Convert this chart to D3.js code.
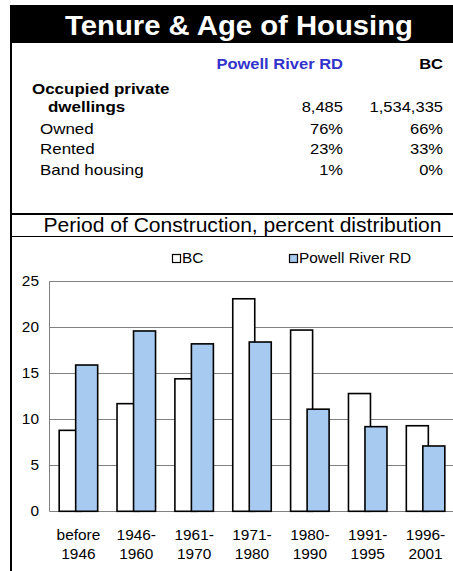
<!DOCTYPE html>
<html>
<head>
<meta charset="utf-8">
<script src="https://cdn.jsdelivr.net/npm/d3@7/dist/d3.min.js"></script>
<style>
  html, body { margin: 0; padding: 0; background: #fff; }
  svg { display: block; font-family: "Liberation Sans", Arial, sans-serif; }
</style>
</head>
<body>
<svg id="chart" width="453" height="571"></svg>
<script>
// ---- data ----
const title = "Tenure & Age of Housing";
const regionName = "Powell River RD";
const provName = "BC";
const tableLabels = ["Owned", "Rented", "Band housing"];
const tableRegion = ["76%", "23%", "1%"];
const tableProv = ["66%", "33%", "0%"];
const dwellingsRegion = "8,485";
const dwellingsProv = "1,534,335";
const subtitle = "Period of Construction, percent distribution";
const categories = ["before 1946", "1946-1960", "1961-1970", "1971-1980", "1980-1990", "1991-1995", "1996-2001"];
const catLine1 = ["before", "1946-", "1961-", "1971-", "1980-", "1991-", "1996-"];
const catLine2 = ["1946", "1960", "1970", "1980", "1990", "1995", "2001"];
const bcValues = [8.8, 11.7, 14.4, 23.1, 19.7, 12.8, 9.3];
const prValues = [15.9, 19.6, 18.2, 18.4, 11.1, 9.2, 7.1];
const yTicks = [0, 5, 10, 15, 20, 25];

const svg = d3.select("#chart");
const K = 1.1; // horizontal stretch of text

function stretch(sel, k) {
  sel.each(function () {
    const w = this.getComputedTextLength();
    this.setAttribute("textLength", w * k);
    this.setAttribute("lengthAdjust", "spacingAndGlyphs");
  });
  return sel;
}

// ---- title band ----
svg.append("rect").attr("x", 10).attr("y", 5).attr("width", 443).attr("height", 38).attr("fill", "#000");
stretch(svg.append("text").attr("x", 239).attr("y", 35).attr("text-anchor", "middle")
  .attr("font-size", 28).attr("font-weight", "bold").attr("fill", "#fff").text(title), 1.045);

// borders
svg.append("rect").attr("x", 10).attr("y", 43).attr("width", 2).attr("height", 528).attr("fill", "#000");
svg.append("rect").attr("x", 10).attr("y", 213).attr("width", 443).attr("height", 2).attr("fill", "#000");
svg.append("rect").attr("x", 10).attr("y", 236).attr("width", 443).attr("height", 1).attr("fill", "#000");

// ---- table ----
const colR = 343, colP = 443;
stretch(svg.append("text").attr("x", colR).attr("y", 69).attr("text-anchor", "end")
  .attr("font-size", 15).attr("font-weight", "bold").attr("fill", "#3333cc").text(regionName), K);
stretch(svg.append("text").attr("x", colP).attr("y", 69).attr("text-anchor", "end")
  .attr("font-size", 15).attr("font-weight", "bold").attr("fill", "#000").text(provName), K);
stretch(svg.append("text").attr("x", 32).attr("y", 94).attr("font-size", 15).attr("font-weight", "bold").text("Occupied private"), 1.13);
stretch(svg.append("text").attr("x", 48).attr("y", 112).attr("font-size", 15).attr("font-weight", "bold").text("dwellings"), 1.13);
stretch(svg.append("text").attr("x", colR).attr("y", 112).attr("text-anchor", "end").attr("font-size", 15).text(dwellingsRegion), K);
stretch(svg.append("text").attr("x", colP).attr("y", 112).attr("text-anchor", "end").attr("font-size", 15).text(dwellingsProv), K);
const rowY = [134, 154, 175];
tableLabels.forEach((lab, i) => {
  stretch(svg.append("text").attr("x", 40).attr("y", rowY[i]).attr("font-size", 15).text(lab), 1.13);
  stretch(svg.append("text").attr("x", colR).attr("y", rowY[i]).attr("text-anchor", "end").attr("font-size", 15).text(tableRegion[i]), K);
  stretch(svg.append("text").attr("x", colP).attr("y", rowY[i]).attr("text-anchor", "end").attr("font-size", 15).text(tableProv[i]), K);
});

// ---- subtitle ----
stretch(svg.append("text").attr("x", 242.5).attr("y", 232).attr("text-anchor", "middle")
  .attr("font-size", 19.5).text(subtitle), 1.08);

// ---- legend ----
const blue = "#a6caf0";
const legend = [
  { name: "BC", fill: "#fff", x: 172 },
  { name: "Powell River RD", fill: blue, x: 289 }
];
legend.forEach(l => {
  svg.append("rect").attr("x", l.x + 0.5).attr("y", 254.5).attr("width", 8).attr("height", 8)
    .attr("fill", l.fill).attr("stroke", "#000").attr("stroke-width", 1.2);
  stretch(svg.append("text").attr("x", l.x + 10).attr("y", 263).attr("font-size", 14).text(l.name), K);
});

// ---- chart ----
const x = d3.scaleBand().domain(categories).range([49.5, 454.5]).padding(0);
const y = d3.scaleLinear().domain([0, 25]).range([511.3, 281.3]);

const grid = svg.append("g");
grid.selectAll("line").data(yTicks).join("line")
  .attr("x1", 49.5).attr("x2", 453)
  .attr("y1", d => Math.round(y(d)) + 0.5).attr("y2", d => Math.round(y(d)) + 0.5)
  .attr("stroke", "#808080").attr("stroke-width", 1);
svg.append("line").attr("x1", 49.5).attr("x2", 49.5).attr("y1", Math.round(y(25)) + 0.5).attr("y2", Math.round(y(0)) + 0.5)
  .attr("stroke", "#808080").attr("stroke-width", 1);

svg.append("g").selectAll("text").data(yTicks).join("text")
  .attr("x", 39).attr("y", d => y(d)).attr("dy", "0.35em").attr("text-anchor", "end")
  .attr("font-size", 14).text(d => d)
  .call(s => stretch(s, K));

const barW = 22, groupW = 38.5;
const cx = c => x(c) + x.bandwidth() / 2;
svg.append("g").selectAll("rect").data(categories).join("rect")
  .attr("x", c => cx(c) - groupW / 2)
  .attr("y", (c, i) => y(bcValues[i]))
  .attr("width", barW)
  .attr("height", (c, i) => y(0) - y(bcValues[i]))
  .attr("fill", "#fff").attr("stroke", "#000").attr("stroke-width", 1.6);
svg.append("g").selectAll("rect").data(categories).join("rect")
  .attr("x", c => cx(c) + groupW / 2 - barW)
  .attr("y", (c, i) => y(prValues[i]))
  .attr("width", barW)
  .attr("height", (c, i) => y(0) - y(prValues[i]))
  .attr("fill", blue).attr("stroke", "#000").attr("stroke-width", 1.6);

const xl = svg.append("g");
xl.selectAll("text.l1").data(categories).join("text").attr("class", "l1")
  .attr("x", c => cx(c)).attr("y", 540).attr("text-anchor", "middle").attr("font-size", 14)
  .text((c, i) => catLine1[i]).call(s => stretch(s, K));
xl.selectAll("text.l2").data(categories).join("text").attr("class", "l2")
  .attr("x", c => cx(c)).attr("y", 559).attr("text-anchor", "middle").attr("font-size", 14)
  .text((c, i) => catLine2[i]).call(s => stretch(s, K));
</script>
</body>
</html>
